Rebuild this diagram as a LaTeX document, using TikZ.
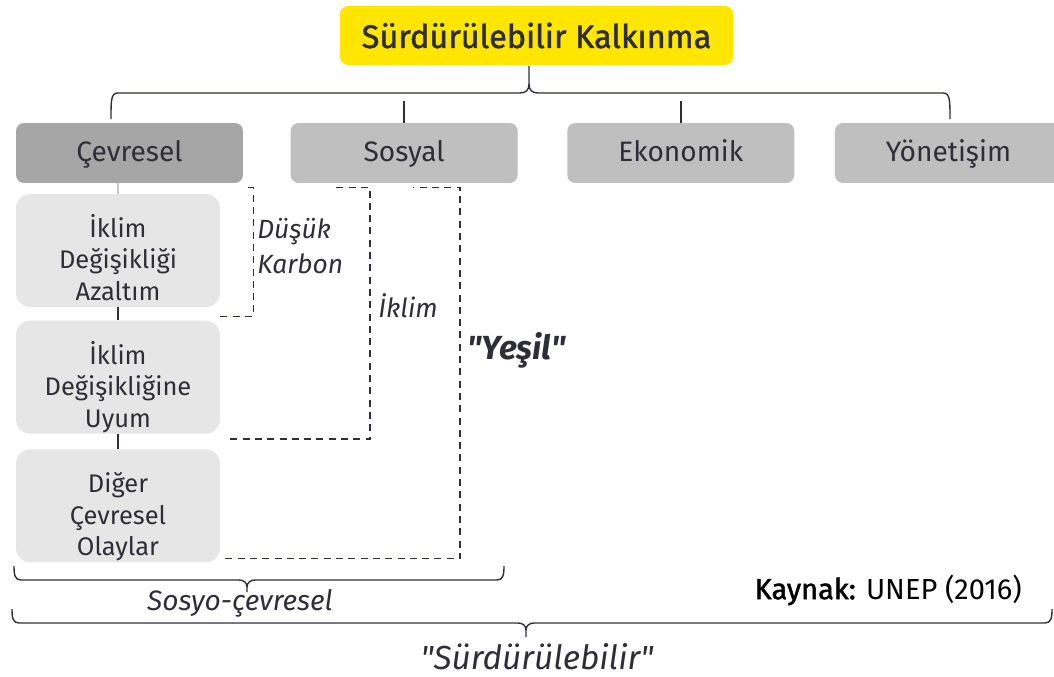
\documentclass[tikz,border=0pt]{standalone}
\usepackage{fontspec}
\setmainfont{Fira Sans}
\newfontfamily\orta{Fira Sans}[FakeBold=1.5]
\newfontfamily\tirnakfont{Fira Sans}
\newcommand{\tirnak}{{\tirnakfont "}}
\usetikzlibrary{positioning,calc}

\begin{document}
\begin{tikzpicture}[x=0.02cm,y=-0.02cm,
  ana/.style={fill=cyel,rounded corners=0.16cm,minimum width=7.86cm,minimum height=1.18cm,text=ctx,font=\fontsize{18.5}{21}\selectfont\orta},
  boyut/.style={rounded corners=0.16cm,minimum width=4.54cm,minimum height=1.2cm,text=ctx,text height=13pt,text depth=3pt,font=\fontsize{16}{19}\selectfont},
  alt/.style={fill=calt,rounded corners=0.28cm,minimum width=4.08cm,minimum height=2.26cm,inner ysep=0pt,text height=60pt,text depth=3pt,align=center,text=ctx,font=\fontsize{14.5}{18}\selectfont},
  kol/.style={draw=cln,line width=0.8pt},
  kesik/.style={draw=cln,line width=0.8pt,dash pattern=on 4pt off 3pt},
  etiket/.style={text=ctx,font=\fontsize{15}{20}\selectfont\itshape,align=left,inner sep=0pt}]
%
\useasboundingbox (0,0) rectangle (1054,676);
%
\definecolor{cyel}{RGB}{255,230,0}
\definecolor{ckoyu}{RGB}{166,166,166}
\definecolor{corta}{RGB}{191,191,191}
\definecolor{calt}{RGB}{230,230,230}
\definecolor{ctx}{RGB}{46,46,56}
\definecolor{cln}{RGB}{46,46,56}
\definecolor{cince}{RGB}{200,200,200}
%
\node[ana] (kalkinma) at (536.5,35.5) {Sürdürülebilir Kalkınma};
%
\node[boyut,fill=ckoyu] (cevre) at (129.5,153) {Çevresel};
\node[boyut,fill=corta,right=0.94cm of cevre] (sosyal) {Sosyal};
\node[boyut,fill=corta,right=0.98cm of sosyal] (ekonomi) {Ekonomik};
\node[boyut,fill=corta,right=0.8cm of ekonomi] (yonetim) {Yönetişim};
%
\node[alt] (azaltim) at (118,250.5) {İklim\\Değişikliği\\Azaltım};
\node[alt,below=0.26cm of azaltim] (uyum) {İklim\\Değişikliğine\\Uyum};
\node[alt,below=0.3cm of uyum] (diger) {Diğer\\Çevresel\\Olaylar};
%
\coordinate (ustsol) at (111,119);
\coordinate (ustsag) at (950,119);
\coordinate (ustuc) at (529,66);
\draw[kol] (ustsol) .. controls (111,100) and (111,93) .. (118,93) -- (520,93) .. controls (526,93) and (529,90) .. (529,84) -- (ustuc);
\draw[kol] (ustsag) .. controls (950,100) and (950,93) .. (943,93) -- (538,93) .. controls (532,93) and (529,90) .. (529,84);
\draw[kol] (sosyal.north) -- ++(0,-22);
\draw[kol] (ekonomi.north) -- ++(0,-22);
%
\draw[draw=cince,line width=0.8pt] (azaltim.north) -- (azaltim.north |- cevre.south);
\draw[kol] (azaltim.south) -- (uyum.north);
\draw[kol] (uyum.south) -- (diger.north);
%
\draw[kesik] ($(azaltim.south east)+(0,9)$) -| ($(cevre.south east)+(10,4)$) -- ++(-9,0);
\draw[kesik] ($(uyum.south east)+(10,5)$) -| ($(sosyal.south)+(-34,4)$) -- ++(-34,0);
\draw[kesik] ($(diger.south east)+(5,-4)$) -| ($(sosyal.south)+(56,4)$) -- ++(-47,0);
%
\node[etiket,anchor=north west] (dusuk) at (257,218) {Düşük\\Karbon};
\node[etiket,anchor=west] (iklim) at (378,306) {İklim};
\node[etiket,anchor=west,font=\fontsize{19}{22}\selectfont\bfseries\itshape] (yesil) at (467,350) {\tirnak Yeşil\tirnak};
%
\coordinate (altsol) at (14,566);
\coordinate (altsag) at (504,566);
\coordinate (altuc) at (247,592);
\draw[kol] (altsol) .. controls (14,575) and (15,580) .. (21,580) -- (239,580) .. controls (244,580) and (247,583) .. (247,587) -- (altuc);
\draw[kol] (altsag) .. controls (504,575) and (503,580) .. (497,580) -- (255,580) .. controls (250,580) and (247,583) .. (247,587);
\node[etiket,font=\fontsize{16}{19}\selectfont\itshape] (sosyocevre) at (240,603) {Sosyo-çevresel};
%
\coordinate (enalsol) at (12,609);
\coordinate (enalsag) at (1052,609);
\coordinate (enaluc) at (526,637);
\draw[kol] (enalsol) .. controls (12,618) and (13,623) .. (19,623) -- (518,623) .. controls (523,623) and (526,626) .. (526,630) -- (enaluc);
\draw[kol] (enalsag) .. controls (1052,618) and (1051,623) .. (1045,623) -- (534,623) .. controls (529,623) and (526,626) .. (526,630);
\node[etiket,font=\fontsize{19}{22}\selectfont\itshape] (surdur) at (537,657) {\tirnak Sürdürülebilir\tirnak};
%
\node[text=black,anchor=east,inner sep=0pt,font=\fontsize{16.5}{19}\selectfont] (kaynak) at (1022,590) {{\orta Kaynak:} UNEP (2016)};
%
\end{tikzpicture}
\end{document}
